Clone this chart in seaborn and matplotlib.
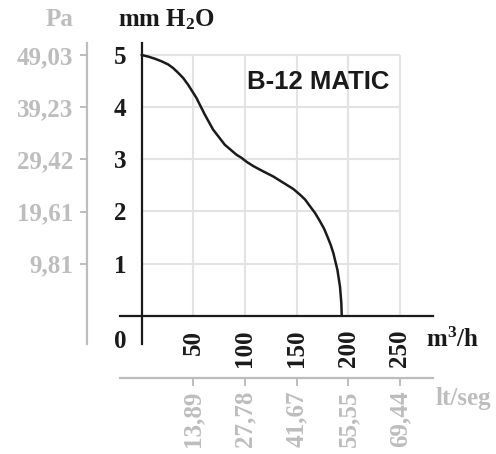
import matplotlib
matplotlib.use("Agg")
import matplotlib.pyplot as plt
import seaborn as sns
import pandas as pd

# fan curve
flow = [0, 6.3, 12.7, 19.2, 25.6, 30.5, 35.3, 40.2, 45, 53, 61.1, 69.2, 80.5,
        91.7, 96.6, 101.8, 108.2, 114.7, 127.5, 140.5, 146.9, 153.4, 158.2, 163,
        167.9, 172.7, 176.6, 179.8, 183, 185.6, 189.5, 192, 193.3, 193.7]
pressure = [5.0, 4.97, 4.93, 4.88, 4.82, 4.75, 4.66, 4.56, 4.43, 4.18, 3.86, 3.57, 3.28,
            3.09, 3.03, 2.95, 2.87, 2.80, 2.67, 2.51, 2.43, 2.32, 2.23, 2.10,
            1.97, 1.81, 1.67, 1.52, 1.36, 1.20, 0.88, 0.56, 0.24, 0.0]

x_ticks = [50, 100, 150, 200, 250]
y_ticks = [1, 2, 3, 4, 5]
pa_ticks = [9.81, 19.61, 29.42, 39.23, 49.03]
pa_labels = ["9,81", "19,61", "29,42", "39,23", "49,03"]
ls_ticks = [13.89, 27.78, 41.67, 55.55, 69.44]
ls_labels = ["13,89", "27,78", "41,67", "55,55", "69,44"]

df = pd.DataFrame({"m3h": flow, "mmH2O": pressure})

sns.set_style("white")
plt.rcParams["font.family"] = ["Liberation Serif", "DejaVu Serif"]
plt.rcParams["font.weight"] = "bold"
plt.rcParams["mathtext.default"] = "regular"

BLACK = "#1a1a1a"
GRAY = "#bdbdbd"
GRID = "#e3e3e3"
FS = 18

fig = plt.figure(figsize=(4.96, 4.54), dpi=100)
W, H = 496, 454
ax = fig.add_axes([120 / W, 1 - 344 / H, 313 / W, 301 / H])
ax.set_xlim(-20.9, 282)
ax.set_ylim(-0.54, 5.23)

# grid limited to the chart block
ax.vlines(x_ticks, 0, 5, color=GRID, lw=1.5, zorder=0)
ax.hlines(y_ticks, 0, 250, color=GRID, lw=1.5, zorder=0)

sns.lineplot(data=df, x="m3h", y="mmH2O", ax=ax, color=BLACK, lw=1.8,
             sort=False, estimator=None, zorder=3)

for s in ["top", "right"]:
    ax.spines[s].set_visible(False)
ax.spines["left"].set_position(("data", 0))
ax.spines["bottom"].set_position(("data", 0))
for s in ["left", "bottom"]:
    ax.spines[s].set_color(BLACK)
    ax.spines[s].set_linewidth(1.6)

ax.set_xticks(x_ticks)
ax.set_yticks(y_ticks)
ax.set_xticklabels([str(v) for v in x_ticks], rotation=90)
ax.tick_params(axis="both", direction="out", length=7, width=1.6, color=BLACK,
               labelsize=FS, labelcolor=BLACK, pad=3)
ax.tick_params(axis="y", pad=4)
ax.set_xlabel("")
ax.set_ylabel("")

# secondary Pa axis
sy = ax.secondary_yaxis(-0.105, functions=(lambda y: y * 9.80665, lambda p: p / 9.80665))
sy.set_yticks(pa_ticks, labels=pa_labels)
sy.spines["left"].set_color(GRAY)
sy.spines["left"].set_linewidth(1.6)
sy.tick_params(axis="y", direction="out", length=5, width=1.4, color=GRAY,
               labelcolor=GRAY, labelsize=FS, pad=5)

# secondary lt/seg axis
sx = ax.secondary_xaxis(-0.113, functions=(lambda x: x / 3.6, lambda l: l * 3.6))
sx.set_xticks(ls_ticks, labels=ls_labels, rotation=90)
sx.spines["bottom"].set_color(GRAY)
sx.spines["bottom"].set_linewidth(1.6)
sx.tick_params(axis="x", direction="out", length=6, width=1.4, color=GRAY,
               labelcolor=GRAY, labelsize=FS, pad=3)

ax.text(170.9, 4.49, "B-12 MATIC", family="Liberation Sans", weight="bold",
        fontsize=18.5, color=BLACK, ha="center", va="center")

fig.text(120 / W, 1 - 341 / H, "0", fontsize=FS, color=BLACK, ha="center", va="center")
fig.text(167 / W, 1 - 20 / H, "mm H$_2$O", fontsize=FS, color=BLACK, ha="center", va="center")
fig.text(60 / W, 1 - 20 / H, "Pa", fontsize=FS, color=GRAY, ha="center", va="center")
fig.text(452 / W, 1 - 340 / H, "m$^3$/h", fontsize=FS, color=BLACK, ha="center", va="center")
fig.text(463 / W, 1 - 399 / H, "lt/seg", fontsize=FS, color=GRAY, ha="center", va="center")

fig.savefig("out.png", dpi=100)
